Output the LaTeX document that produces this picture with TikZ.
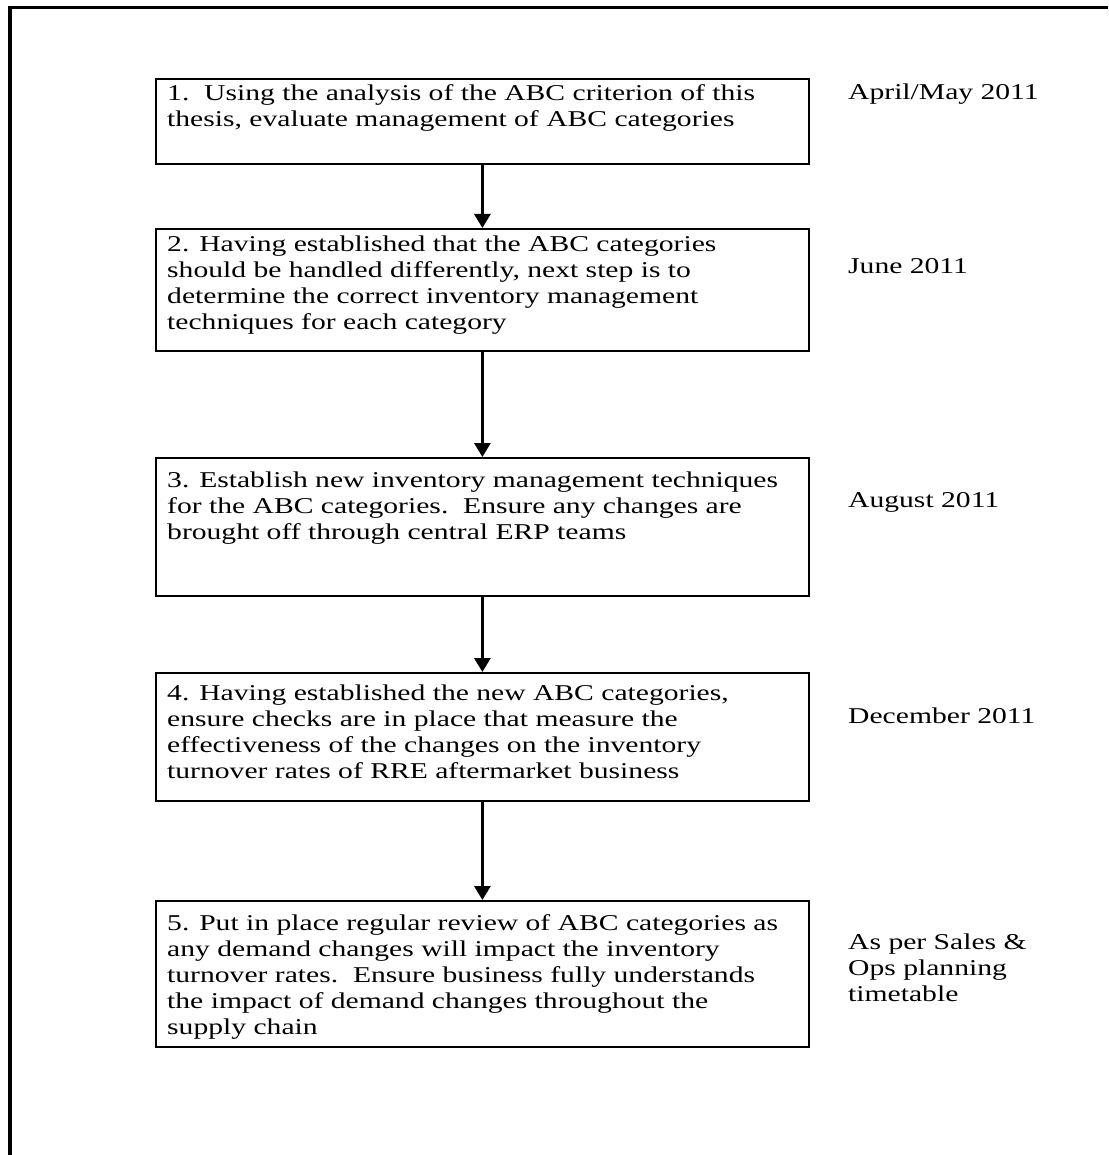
\documentclass[tikz,border=0pt]{standalone}
\usepackage{fontspec}
\setmainfont{Liberation Serif}[FakeStretch=1.31]
\usetikzlibrary{arrows.meta}
\begin{document}
\begin{tikzpicture}[x=1pt,y=-1pt,
  stepbox/.style={draw, line width=1.8pt, minimum width=653pt, inner sep=0pt, anchor=north west},
  steptext/.style={anchor=north west, inner sep=0pt, align=left, font=\fontsize{22.6}{26}\selectfont},
  datetext/.style={anchor=north west, inner sep=0pt, align=left, font=\fontsize{22.6}{26}\selectfont},
  flow/.style={line width=3pt, -{Triangle[length=14pt,width=16pt]}}
]
\useasboundingbox (0,0) rectangle (1108,1155);
\draw[line width=3.5pt] (10,1155) -- (10,7.5) -- (1108,7.5);

\node[stepbox, minimum height=85pt] (b1) at (155,78) {};
\node[stepbox, minimum height=122pt] (b2) at (155,228) {};
\node[stepbox, minimum height=138pt] (b3) at (155,457) {};
\node[stepbox, minimum height=128pt] (b4) at (155,672) {};
\node[stepbox, minimum height=146pt] (b5) at (155,900) {};

\node[steptext] (t1) at (167,84) {1.\ \ Using the analysis of the ABC criterion of this\\thesis, evaluate management of ABC categories};
\node[steptext] (t2) at (167,236) {2. Having established that the ABC categories\\should be handled differently, next step is to\\determine the correct inventory management\\techniques for each category};
\node[steptext] (t3) at (167,472) {3. Establish new inventory management techniques\\for the ABC categories.\ \ Ensure any changes are\\brought off through central ERP teams};
\node[steptext] (t4) at (167,685) {4. Having established the new ABC categories,\\ensure checks are in place that measure the\\effectiveness of the changes on the inventory\\turnover rates of RRE aftermarket business};
\node[steptext] (t5) at (167,914) {5. Put in place regular review of ABC categories as\\any demand changes will impact the inventory\\turnover rates.\ \ Ensure business fully understands\\the impact of demand changes throughout the\\supply chain};

\node[datetext] (d1) at (848,84) {April/May 2011};
\node[datetext] (d2) at (848,258) {June 2011};
\node[datetext] (d3) at (848,492) {August 2011};
\node[datetext] (d4) at (848,708) {December 2011};
\node[datetext] (d5) at (848,934) {As per Sales \&\\Ops planning\\timetable};

\draw[flow] (b1.south) -- (b2.north);
\draw[flow] (b2.south) -- (b3.north);
\draw[flow] (b3.south) -- (b4.north);
\draw[flow] (b4.south) -- (b5.north);
\end{tikzpicture}
\end{document}
